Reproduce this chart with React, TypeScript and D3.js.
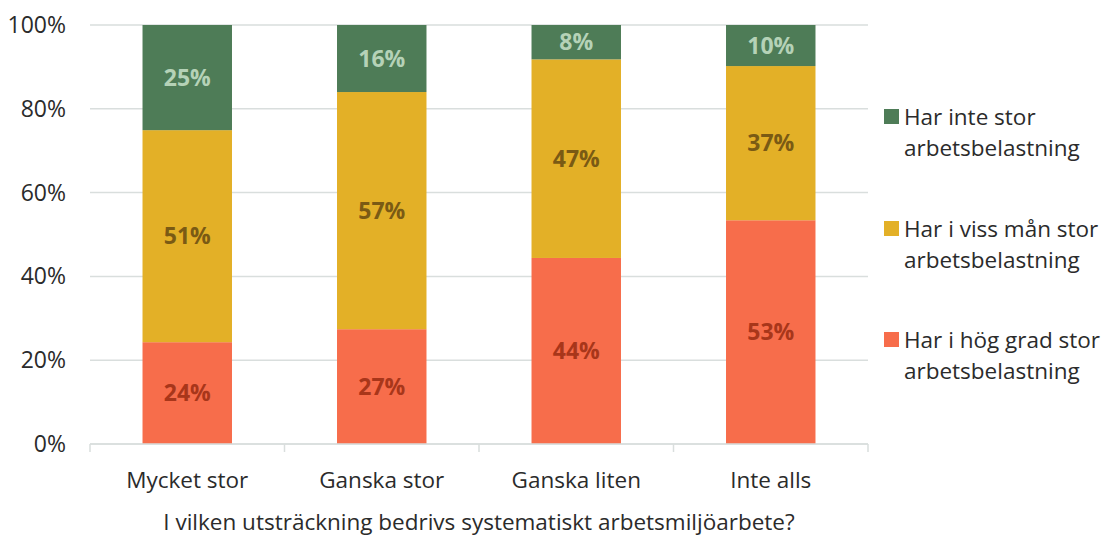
import React, { useEffect, useRef } from 'react';
import * as d3 from 'd3';

const categories = ['Mycket stor', 'Ganska stor', 'Ganska liten', 'Inte alls'];
const highLoad = [24.3, 27.4, 44.4, 53.4];
const someLoad = [50.6, 56.6, 47.4, 36.8];
const noLoad = [25.1, 16.0, 8.2, 9.8];
const seriesNames = [
  ['Har i hög grad stor', 'arbetsbelastning'],
  ['Har i viss mån stor', 'arbetsbelastning'],
  ['Har inte stor', 'arbetsbelastning'],
];
const yTicks = [0, 20, 40, 60, 80, 100];
const xTitle = 'I vilken utsträckning bedrivs systematiskt arbetsmiljöarbete?';

const colors = ['#f76d4b', '#e3b027', '#4e7c57'];
const labelColors = ['#a8361a', '#7a5a14', '#b5d2b7'];
const FONT = '"Open Sans", "Noto Sans", sans-serif';
const TEXT = '#2b2b2b';

const App = () => {
  const svgRef = useRef<SVGSVGElement>(null);

  useEffect(() => {
    const width = 1106;
    const height = 537;
    const svg = d3.select(svgRef.current);
    svg.selectAll('*').remove();
    svg.attr('width', width).attr('height', height);

    const margin = { left: 90, right: 238, top: 25, bottom: 93 };
    const x = d3.scaleBand()
      .domain(categories)
      .range([margin.left, width - margin.right])
      .paddingInner(0.54)
      .paddingOuter(0.27);
    const y = d3.scaleLinear().domain([0, 100]).range([height - margin.bottom, margin.top]);

    // gridlines
    svg.append('g')
      .selectAll('line')
      .data(yTicks)
      .enter()
      .append('line')
      .attr('x1', margin.left)
      .attr('x2', width - margin.right)
      .attr('y1', d => y(d))
      .attr('y2', d => y(d))
      .attr('stroke', '#d9dedd')
      .attr('stroke-width', 1.5);

    // y labels
    svg.append('g')
      .selectAll('text')
      .data(yTicks)
      .enter()
      .append('text')
      .attr('x', 66)
      .attr('y', d => y(d))
      .attr('dy', '0.35em')
      .attr('text-anchor', 'end')
      .style('font-family', FONT)
      .style('font-size', '23px')
      .style('fill', TEXT)
      .text(d => `${d}%`);

    // stacked data
    const rows = categories.map((c, i) => ({ cat: c, a: highLoad[i], b: someLoad[i], c: noLoad[i] }));
    const stack = d3.stack<any>().keys(['a', 'b', 'c'])(rows);

    stack.forEach((layer, si) => {
      const g = svg.append('g');
      g.selectAll('rect')
        .data(layer)
        .enter()
        .append('rect')
        .attr('x', d => x(d.data.cat)!)
        .attr('width', x.bandwidth())
        .attr('y', d => y(d[1]))
        .attr('height', d => y(d[0]) - y(d[1]))
        .attr('fill', colors[si]);
      g.selectAll('text')
        .data(layer)
        .enter()
        .append('text')
        .attr('x', d => x(d.data.cat)! + x.bandwidth() / 2)
        .attr('y', d => (y(d[0]) + y(d[1])) / 2)
        .attr('dy', '0.35em')
        .attr('text-anchor', 'middle')
        .style('font-family', FONT)
        .style('font-size', '23px')
        .style('font-weight', 'bold')
        .style('fill', labelColors[si])
        .text(d => `${Math.round(d[1] - d[0])}%`);
    });

    // x axis
    const x0 = y(0);
    svg.append('line')
      .attr('x1', margin.left)
      .attr('x2', width - margin.right)
      .attr('y1', x0)
      .attr('y2', x0)
      .attr('stroke', '#d9dedd')
      .attr('stroke-width', 1.5);
    const step = x.step();
    const bounds = d3.range(categories.length + 1).map(i => margin.left + i * step);
    svg.append('g')
      .selectAll('line')
      .data(bounds)
      .enter()
      .append('line')
      .attr('x1', d => d)
      .attr('x2', d => d)
      .attr('y1', x0)
      .attr('y2', x0 + 8)
      .attr('stroke', '#d9dedd')
      .attr('stroke-width', 1.5);

    svg.append('g')
      .selectAll('text')
      .data(categories)
      .enter()
      .append('text')
      .attr('x', d => x(d)! + x.bandwidth() / 2)
      .attr('y', 488)
      .attr('text-anchor', 'middle')
      .style('font-family', FONT)
      .style('font-size', '22.5px')
      .style('fill', TEXT)
      .text(d => d);

    // axis title (reference clips it at the bottom; kept just inside here)
    svg.append('text')
      .attr('x', (margin.left + width - margin.right) / 2)
      .attr('y', 530)
      .attr('text-anchor', 'middle')
      .style('font-family', FONT)
      .style('font-size', '22.5px')
      .style('fill', TEXT)
      .text(xTitle);

    // legend (top to bottom: no load, some, high)
    const legendOrder = [2, 1, 0];
    const legendY = [117, 229, 340];
    const lg = svg.append('g');
    legendOrder.forEach((si, i) => {
      lg.append('rect')
        .attr('x', 884)
        .attr('y', legendY[i] - 8)
        .attr('width', 15)
        .attr('height', 15)
        .attr('fill', colors[si]);
      seriesNames[si].forEach((line, li) => {
        lg.append('text')
          .attr('x', 904)
          .attr('y', legendY[i] + li * 31)
          .attr('dy', '0.35em')
          .style('font-family', FONT)
          .style('font-size', '22.5px')
          .style('fill', TEXT)
          .text(line);
      });
    });
  }, []);

  return (
    <svg ref={svgRef} style={{ position: 'absolute', left: 0, top: 0, background: '#fff' }}></svg>
  );
};

export default App;
